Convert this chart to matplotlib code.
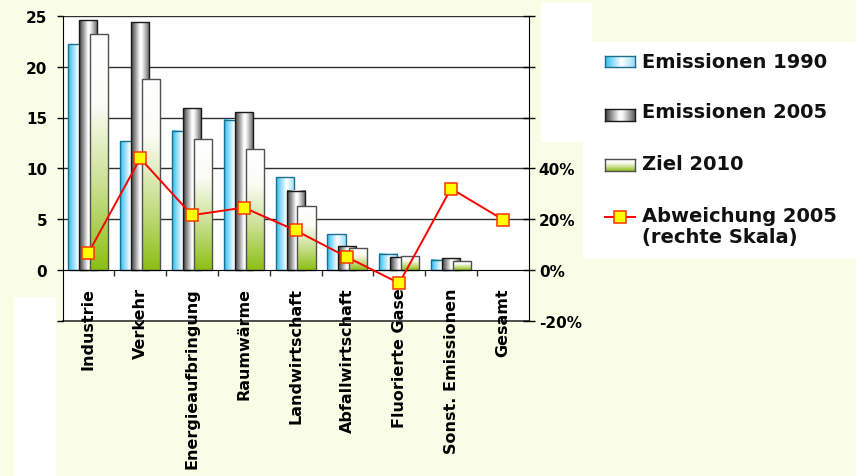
import matplotlib
matplotlib.use('Agg')
import matplotlib.pyplot as plt
import numpy as np
from matplotlib.colors import to_rgb
from matplotlib.patches import Rectangle
from matplotlib.lines import Line2D

plt.rcParams['font.family'] = ['DejaVu Sans']
plt.rcParams['font.weight'] = 'bold'

cats = ['Industrie', 'Verkehr', 'Energieaufbringung', 'Raumwärme', 'Landwirtschaft',
        'Abfallwirtschaft', 'Fluorierte Gase', 'Sonst. Emissionen', 'Gesamt']
em1990 = [22.2, 12.7, 13.7, 14.8, 9.1, 3.5, 1.6, 1.0, np.nan]
em2005 = [24.6, 24.4, 15.9, 15.5, 7.8, 2.3, 1.25, 1.15, np.nan]
ziel2010 = [23.2, 18.8, 12.9, 11.9, 6.3, 2.1, 1.35, 0.85, np.nan]
abw2005 = [6.6, 43.9, 21.5, 24.5, 15.5, 4.9, -5.3, 32.0, 19.8]

names = ['Emissionen 1990', 'Emissionen 2005', 'Ziel 2010', 'Abweichung 2005\n(rechte Skala)']

W, H = 856, 477
bg = '#fafde6'


def fx(x):
    return x / W


def fy(y):
    return 1 - y / H


def gradient(stops, vertical=False):
    t = np.linspace(0, 1, 256)
    pos = [s[0] for s in stops]
    cols = np.array([to_rgb(s[1]) for s in stops])
    arr = np.stack([np.interp(t, pos, cols[:, i]) for i in range(3)], axis=-1)
    if vertical:
        return arr[:, None, :]
    return arr[None, :, :]


grad1990 = gradient([(0, '#2cbdf2'), (0.55, '#ffffff'), (1, '#9adcf6')])
grad2005 = gradient([(0, '#383838'), (0.48, '#ffffff'), (0.6, '#f4f4f4'), (1, '#5a5a5a')])
grad2010 = gradient([(0, '#ffffff'), (0.3, '#fafcf4'), (0.65, '#c8df8e'), (1, '#8cbf14')],
                    vertical=True)
grads = [grad1990, grad2005, grad2010]
edges = ['#1a6f8f', '#1a1a1a', '#505050']

fig = plt.figure(figsize=(8.56, 4.77), dpi=100, facecolor=bg)

# white patches of the original picture
for x0, y0, x1, y1 in [(14, 298, 56, 477), (541, 4, 592, 143), (583, 43, 856, 260)]:
    fig.patches.append(Rectangle((fx(x0), fy(y1)), fx(x1) - fx(x0), fy(y0) - fy(y1),
                                 transform=fig.transFigure, facecolor='white',
                                 edgecolor='none', zorder=-1))

ax = fig.add_axes([fx(62.5), fy(321.5), fx(528.7) - fx(62.5), fy(17) - fy(321.5)])
ax.set_facecolor('white')

x = np.arange(len(cats))
offsets = [-0.21, 0, 0.21]
bw = 0.35
for k, vals in enumerate([em1990, em2005, ziel2010]):
    bars = ax.bar(x + offsets[k], vals, bw, fill=False, edgecolor=edges[k],
                  linewidth=1, zorder=2 + k + 0.5)
    for b in bars:
        h = b.get_height()
        if not h > 0:
            continue
        x0 = b.get_x()
        ax.imshow(grads[k], extent=(x0, x0 + bw, 0, h), aspect='auto',
                  interpolation='bilinear', zorder=2 + k)

ax.set_xlim(-0.5, len(cats) - 0.5)
ax.set_ylim(-5, 25)
for yv in [5, 10, 15, 20, 25]:
    ax.axhline(yv, color='#303030', linewidth=1, zorder=1)
ax.axhline(-5, color='#303030', linewidth=1.2, zorder=1, clip_on=False)

ax.spines['top'].set_visible(False)
ax.spines['right'].set_visible(False)
ax.spines['bottom'].set_position(('data', 0))
ax.spines['bottom'].set_zorder(6)

ax.set_yticks(np.arange(-5, 26, 5))
ax.set_yticklabels([''] + [str(v) for v in range(0, 26, 5)])
ax.tick_params(axis='y', direction='out', length=4.5, width=1, pad=6.5, labelsize=11)

ax.set_xticks(np.arange(0.5, len(cats) - 1, 1))
ax.set_xticklabels([])
ax.set_xticks(x, labels=cats, minor=True)
ax.tick_params(axis='x', which='major', direction='out', length=4.5, width=1, color='#303030')
ax.tick_params(axis='x', which='minor', length=0, pad=12.5, labelsize=11.5, labelrotation=90)

ax2 = ax.twinx()
ax2.set_ylim(-20, 100)
ax2.set_yticks(np.arange(-20, 101, 20))
ax2.set_yticklabels(['-20%', '0%', '20%', '40%', '', '', ''])
ax2.tick_params(axis='y', direction='inout', length=8.5, width=1, pad=3, labelsize=11)
for s in ['top', 'bottom', 'left']:
    ax2.spines[s].set_visible(False)
ax2.plot(x, abw2005, color='#ff0000', linewidth=1.4, marker='s', markersize=8.2,
         markerfacecolor='#ffff00', markeredgecolor='#ff3300', markeredgewidth=1.1,
         zorder=10)

# legend
sw_y = [62.5, 116, 166]
txt_y = [62, 113, 165, 218]
for k in range(3):
    sa = fig.add_axes([fx(605), fy(sw_y[k] + 5.8), fx(635) - fx(605), 11.6 / H])
    sa.imshow(grads[k], extent=(0, 1, 0, 1), aspect='auto', interpolation='bilinear')
    sa.set_xticks([])
    sa.set_yticks([])
    for s in sa.spines.values():
        s.set_edgecolor(edges[k])
        s.set_linewidth(1)
for k, name in enumerate(names):
    fig.text(fx(642.5), fy(txt_y[k]), name, ha='left', va='center' if k < 3 else 'top',
             fontsize=14, fontweight='bold', color='#111111', linespacing=1.15)
fig.texts[-1].set_y(fy(207))
fig.lines.append(Line2D([fx(605), fx(635)], [fy(218), fy(218)], transform=fig.transFigure,
                        color='#ff0000', linewidth=1.4))
fig.lines.append(Line2D([fx(620)], [fy(218)], transform=fig.transFigure, marker='s',
                        markersize=8.2, markerfacecolor='#ffff00', markeredgecolor='#ff3300',
                        markeredgewidth=1.1))

fig.savefig('out.png', dpi=100, facecolor=bg)
